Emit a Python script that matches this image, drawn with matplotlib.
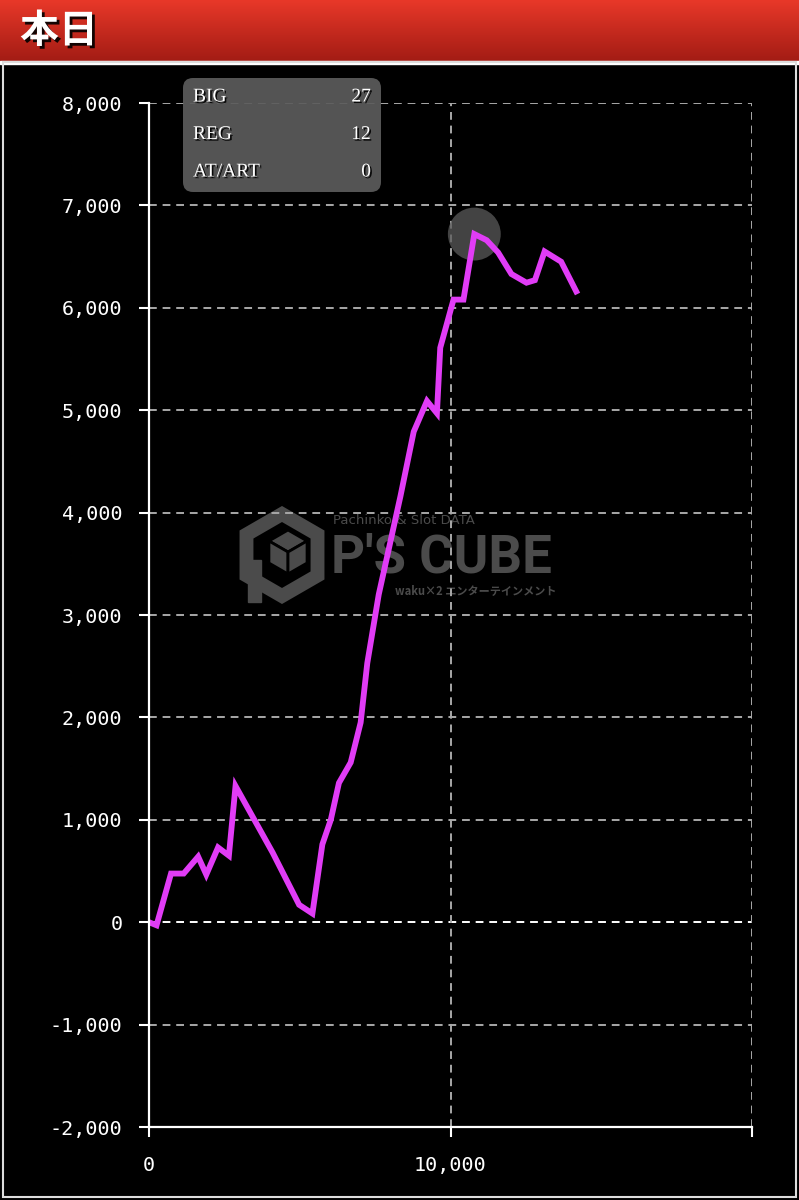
import numpy as np
import matplotlib

matplotlib.use("Agg")

import matplotlib.pyplot as plt
import matplotlib.patheffects as pe
from matplotlib.patches import FancyBboxPatch, RegularPolygon, Rectangle, Polygon


# data
games = [0, 250, 730, 1150, 1630, 1900, 2290, 2650, 2870, 4100, 4980, 5420,
         5750, 6030, 6300, 6690, 7020, 7240, 7620, 8340, 8780, 9220, 9550,
         9660, 10100, 10430, 10790, 11200, 11580, 12020, 12520, 12800, 13120,
         13670, 14170]
medals = [0, -30, 475, 475, 640, 465, 730, 650, 1330, 680, 170, 85,
          760, 1000, 1360, 1560, 1950, 2530, 3200, 4160, 4790, 5090, 4970,
          5610, 6080, 6080, 6720, 6660, 6540, 6330, 6245, 6270, 6550,
          6450, 6160]

y_ticks = [-2000, -1000, 0, 1000, 2000, 3000, 4000, 5000, 6000, 7000, 8000]
x_ticks = [0, 10000, 20000]
x_labels = ["0", "10,000", ""]

title = "本日"
stat_names = ["BIG", "REG", "AT/ART"]
stat_values = [27, 12, 0]

LINE_COLOR = "#e13cf6"
WM = "#4b4b4b"
W, H = 799, 1200

fig = plt.figure(figsize=(W / 100, H / 100), dpi=100, facecolor="black")

# background layer in pixel coordinates: header, frame, watermark
bg = fig.add_axes([0, 0, 1, 1], zorder=0)
bg.set_xlim(0, W)
bg.set_ylim(H, 0)
bg.axis("off")

grad = np.linspace(0, 1, 100)[:, None]
top = np.array([0.91, 0.22, 0.16])
bot = np.array([0.64, 0.11, 0.08])
img = top[None, None, :] * (1 - grad[:, :, None]) + bot[None, None, :] * grad[:, :, None]
bg.imshow(img, aspect="auto", extent=[0, W, 61, 0])
bg.text(20, 31, title, color="white", fontsize=28, fontweight="bold",
        family=["Noto Sans CJK JP", "DejaVu Sans"], va="center", ha="left",
        path_effects=[pe.withSimplePatchShadow(offset=(2, -2), shadow_rgbFace="black", alpha=0.9)])
bg.add_patch(Rectangle((0, 61), W, 2.5, color="white"))
bg.add_patch(Rectangle((3, 62), W - 6, H - 65, fill=False, edgecolor="#dddddd", linewidth=1.5))
bg.set_xlim(0, W)
bg.set_ylim(H, 0)

# watermark logo
bg.add_patch(RegularPolygon((282, 555), numVertices=6, radius=41, orientation=0,
                            fill=False, edgecolor=WM, linewidth=10))
bg.add_patch(Rectangle((248, 560), 13, 42, color=WM))
cx, cy, r = 288, 552, 22
c30, s30 = r * np.cos(np.pi / 6), r * np.sin(np.pi / 6)
top_face = [(cx, cy), (cx - c30, cy - s30), (cx, cy - r), (cx + c30, cy - s30)]
left_face = [(cx, cy), (cx - c30, cy - s30), (cx - c30, cy + s30), (cx, cy + r)]
right_face = [(cx, cy), (cx + c30, cy - s30), (cx + c30, cy + s30), (cx, cy + r)]
for face in [top_face, left_face, right_face]:
    bg.add_patch(Polygon(face, closed=True, facecolor=WM, edgecolor="black", linewidth=2))
bg.text(333, 521, "Pachinko & Slot DATA", color=WM, fontsize=9.5,
        family="DejaVu Sans", va="center", ha="left")
bg.text(331, 558, "P'S CUBE", color=WM, fontsize=38, fontweight="bold",
        family="Roboto", va="center", ha="left")
bg.text(395, 591, "waku×2 エンターテインメント", color=WM, fontsize=8,
        family=["Noto Sans CJK JP", "DejaVu Sans"], va="center", ha="left",
        fontweight="bold")

# main chart
ax = fig.add_axes([149 / W, 1 - 1127 / H, (752 - 149) / W, (1127 - 103) / H], zorder=1)
ax.set_facecolor("none")
ax.set_xlim(0, 20000)
ax.set_ylim(-2000, 8000)

for v in y_ticks[1:]:
    ax.axhline(v, color="white" if v == 0 else "#a8a8a8", linewidth=1.4,
               linestyle=(0, (4, 3)), zorder=1)
for v in x_ticks[1:]:
    ax.axvline(v, color="#a8a8a8", linewidth=1.4, linestyle=(0, (4, 3)), zorder=1)

# highlight circle at the maximum
i_max = int(np.argmax(medals))
ax.scatter([games[i_max]], [medals[i_max]], s=1450, color="#5a5a5a", alpha=0.75,
           edgecolors="none", zorder=2)

ax.plot(games, medals, color=LINE_COLOR, linewidth=4.2, solid_joinstyle="miter",
        zorder=3)

for side in ["top", "right"]:
    ax.spines[side].set_visible(False)
for side in ["left", "bottom"]:
    ax.spines[side].set_color("white")
    ax.spines[side].set_linewidth(1.6)
    ax.spines[side].set_zorder(4)

ax.set_yticks(y_ticks)
ax.set_yticklabels([f"{v:,}" for v in y_ticks])
ax.set_xticks(x_ticks)
ax.set_xticklabels(x_labels)
ax.tick_params(axis="y", colors="white", length=7, width=1.5, pad=12,
               labelsize=14.5)
ax.tick_params(axis="x", colors="white", length=7, width=1.5, pad=14,
               labelsize=14.5)
for lab in ax.get_xticklabels() + ax.get_yticklabels():
    lab.set_family("DejaVu Sans Mono")

# stats box overlay
ov = fig.add_axes([0, 0, 1, 1], zorder=2)
ov.set_xlim(0, W)
ov.set_ylim(H, 0)
ov.axis("off")
ov.add_patch(FancyBboxPatch((183, 78), 198, 114, boxstyle="round,pad=0,rounding_size=10",
                            facecolor="#5c5c5c", edgecolor="none", alpha=0.92))
shadow = [pe.withSimplePatchShadow(offset=(1.2, -1.2), shadow_rgbFace="black", alpha=0.9)]
for k, (name, val) in enumerate(zip(stat_names, stat_values)):
    yy = 97 + 37.5 * k
    ov.text(193, yy, name, color="white", fontsize=14, family="Liberation Serif",
            va="center", ha="left", path_effects=shadow)
    ov.text(371, yy, str(val), color="white", fontsize=14, family="Liberation Serif",
            va="center", ha="right", path_effects=shadow)

fig.savefig("out.png", dpi=100, facecolor="black")
